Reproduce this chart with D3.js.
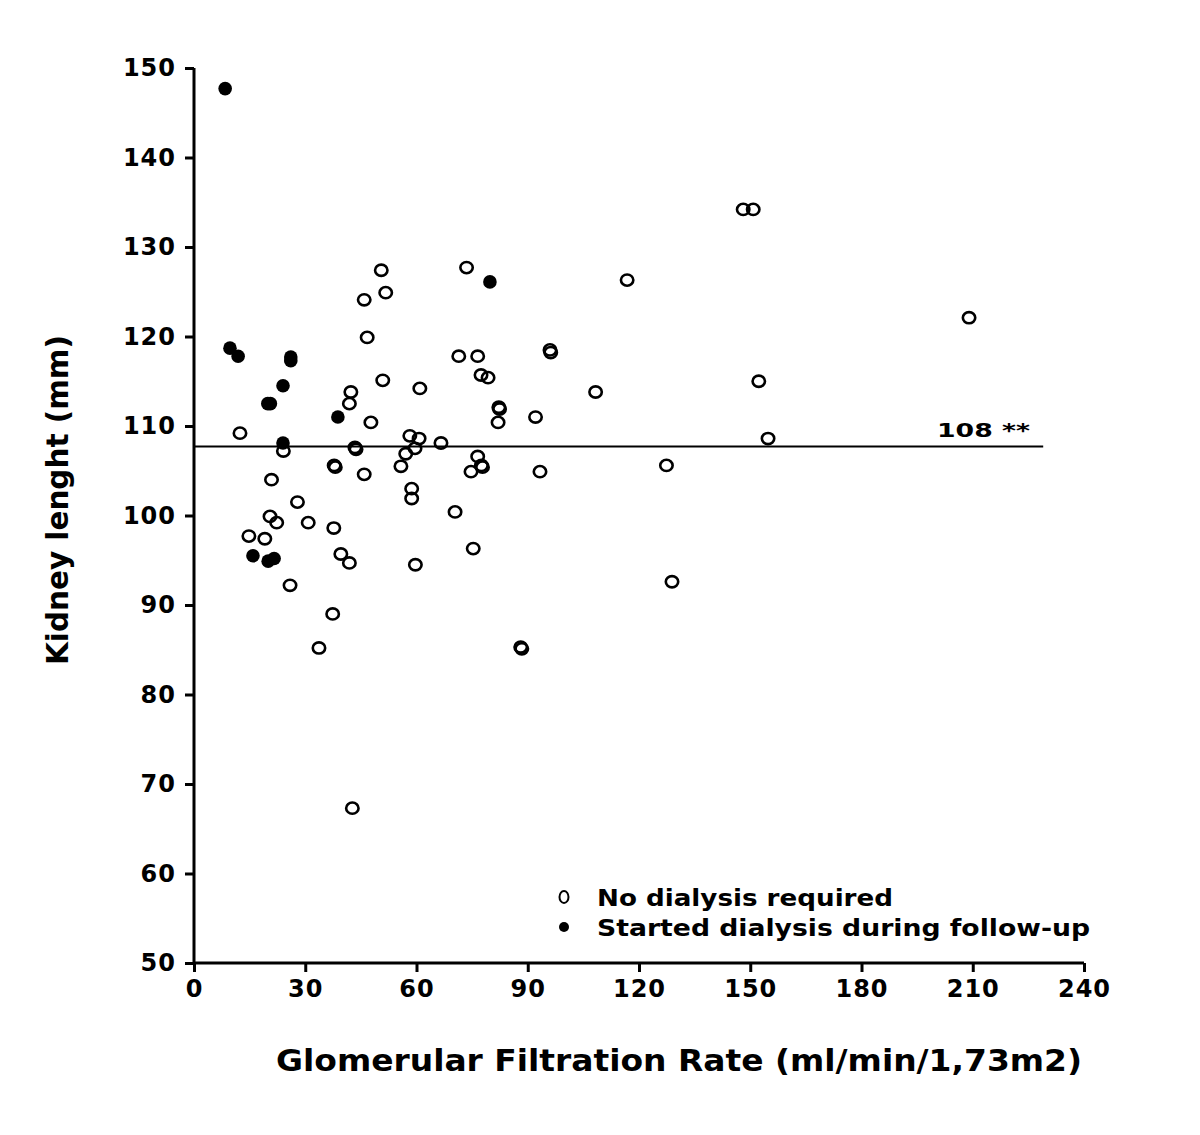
<!DOCTYPE html>
<html>
<head>
<meta charset="utf-8">
<script src="https://cdn.jsdelivr.net/npm/d3@7"></script>
<style>
  html, body { margin: 0; padding: 0; background: #fff; }
  svg { display: block; }
  text { font-family: "DejaVu Sans", sans-serif; fill: #000; }
</style>
</head>
<body>
<svg id="chart" width="1200" height="1135"></svg>
<script>
// ---- data ----
const xTicks = [0, 30, 60, 90, 120, 150, 180, 210, 240];
const yTicks = [50, 60, 70, 80, 90, 100, 110, 120, 130, 140, 150];

// No dialysis required: GFR (x) and kidney length (y)
const noDialysisGFR = [
  50.5, 51.7, 45.9, 46.7, 73.5, 71.4, 76.5, 77.4, 79.3, 96.0, 96.2, 50.9, 60.9, 42.3,
  41.9, 47.7, 12.4, 24.1, 43.4, 43.7, 37.8, 38.1, 45.9, 58.2, 60.7, 59.6, 57.1, 55.8,
  66.6, 76.5, 77.5, 77.8, 74.7, 82.2, 82.4, 82.0, 92.1, 93.3, 20.9, 27.9, 20.5, 22.3,
  30.8, 37.7, 14.8, 19.1, 58.7, 58.7, 70.4, 39.6, 41.9, 59.7, 75.3, 25.9, 37.4, 33.7,
  88.1, 88.4, 42.7, 148.1, 150.8, 116.8, 152.3, 154.8, 108.3, 127.4, 128.9, 209.0
];
const noDialysisLength = [
  127.4, 124.9, 124.1, 119.9, 127.7, 117.8, 117.8, 115.7, 115.4, 118.5, 118.2, 115.1, 114.2, 113.8,
  112.5, 110.4, 109.2, 107.2, 107.6, 107.4, 105.6, 105.4, 104.6, 108.9, 108.6, 107.5, 106.9, 105.5,
  108.1, 106.6, 105.6, 105.4, 104.9, 112.1, 111.9, 110.4, 111.0, 104.9, 104.0, 101.5, 99.9, 99.2,
  99.2, 98.6, 97.7, 97.4, 103.0, 101.9, 100.4, 95.7, 94.7, 94.5, 96.3, 92.2, 89.0, 85.2,
  85.3, 85.1, 67.3, 134.2, 134.2, 126.3, 115.0, 108.6, 113.8, 105.6, 92.6, 122.1
];

// Started dialysis during follow-up
const dialysisGFR = [8.4, 9.7, 11.9, 26.1, 26.1, 24.0, 19.9, 20.6, 38.8, 24.0, 15.9, 20.0, 21.6, 79.8];
const dialysisLength = [147.7, 118.7, 117.8, 117.7, 117.3, 114.5, 112.5, 112.5, 111.0, 108.1, 95.5, 94.9, 95.2, 126.1];

const referenceValue = 107.7;
const referenceEnd = 229;
const referenceLabel = "108 **";
const legendLabels = ["No dialysis required", "Started dialysis during follow-up"];
const xTitle = "Glomerular Filtration Rate (ml/min/1,73m2)";
const yTitle = "Kidney lenght (mm)";

// ---- drawing ----
const svg = d3.select("#chart");
const x = d3.scaleLinear().domain([0, 240]).range([194, 1084]);
const y = d3.scaleLinear().domain([50, 150]).range([963, 68]);

// axes
const xAxis = d3.axisBottom(x).tickValues(xTicks).tickSize(9).tickPadding(8).tickFormat(d3.format("d"));
const yAxis = d3.axisLeft(y).tickValues(yTicks).tickSize(9).tickPadding(9).tickFormat(d3.format("d"));

const gx = svg.append("g").attr("transform", `translate(0,${y(50)})`).call(xAxis);
const gy = svg.append("g").attr("transform", `translate(${x(0)},0)`).call(yAxis);

[gx, gy].forEach(g => {
  g.select(".domain").attr("stroke", "#000").attr("stroke-width", 3);
  g.selectAll(".tick line").attr("stroke", "#000").attr("stroke-width", 3);
  g.selectAll(".tick text")
    .style("font-family", "'DejaVu Sans', sans-serif")
    .style("font-weight", "bold")
    .style("font-size", "24px")
    .style("letter-spacing", "1px")
    .attr("fill", "#000");
});
gx.select(".domain").attr("d", `M${x(0)},0H${x(240)}`);
gy.select(".domain").attr("d", `M0,${y(50)}V${y(150)}`);

// reference line
svg.append("line")
  .attr("x1", x(0)).attr("x2", x(referenceEnd))
  .attr("y1", y(referenceValue)).attr("y2", y(referenceValue))
  .attr("stroke", "#000").attr("stroke-width", 2);

svg.append("text")
  .attr("x", 937).attr("y", y(referenceValue) - 10)
  .attr("textLength", 93).attr("lengthAdjust", "spacingAndGlyphs")
  .style("font-weight", "bold").style("font-size", "19px")
  .text(referenceLabel);

// points
const noDialysis = noDialysisGFR.map((g, i) => ({ g, l: noDialysisLength[i] }));
const dialysis = dialysisGFR.map((g, i) => ({ g, l: dialysisLength[i] }));

svg.append("g").selectAll("ellipse").data(noDialysis).enter().append("ellipse")
  .attr("cx", d => x(d.g)).attr("cy", d => y(d.l))
  .attr("rx", 6.2).attr("ry", 5.6)
  .attr("fill", "none").attr("stroke", "#000").attr("stroke-width", 2.6);

svg.append("g").selectAll("circle").data(dialysis).enter().append("circle")
  .attr("cx", d => x(d.g)).attr("cy", d => y(d.l))
  .attr("r", 6.8).attr("fill", "#000");

// legend
svg.append("ellipse").attr("cx", 564).attr("cy", 897).attr("rx", 4.5).attr("ry", 6)
  .attr("fill", "none").attr("stroke", "#000").attr("stroke-width", 2);
svg.append("circle").attr("cx", 564).attr("cy", 927).attr("r", 5).attr("fill", "#000");

svg.append("text").attr("x", 597).attr("y", 906)
  .attr("textLength", 296).attr("lengthAdjust", "spacingAndGlyphs")
  .style("font-weight", "bold").style("font-size", "23px").text(legendLabels[0]);
svg.append("text").attr("x", 597).attr("y", 936)
  .attr("textLength", 493).attr("lengthAdjust", "spacingAndGlyphs")
  .style("font-weight", "bold").style("font-size", "23px").text(legendLabels[1]);

// axis titles
svg.append("text").attr("x", 276).attr("y", 1071)
  .attr("textLength", 806).attr("lengthAdjust", "spacingAndGlyphs")
  .style("font-weight", "bold").style("font-size", "30px").text(xTitle);

svg.append("text")
  .attr("transform", "translate(68,665) rotate(-90)")
  .attr("x", 0).attr("y", 0)
  .attr("textLength", 330).attr("lengthAdjust", "spacingAndGlyphs")
  .style("font-weight", "bold").style("font-size", "30px").text(yTitle);
</script>
</body>
</html>
